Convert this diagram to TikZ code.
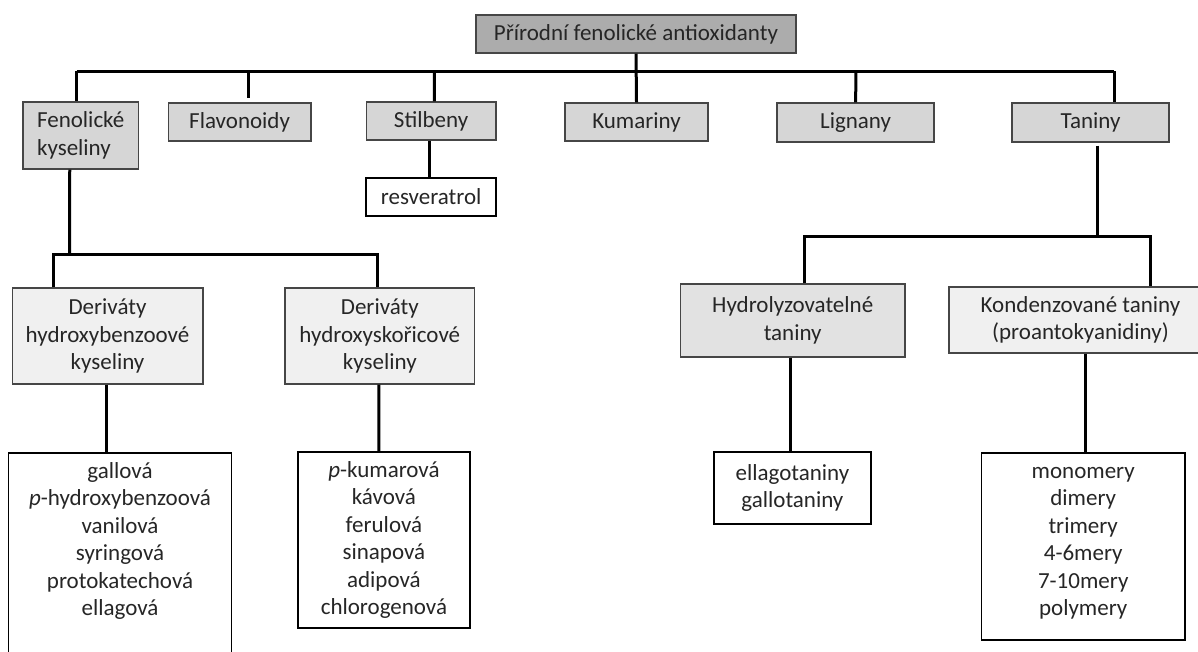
\documentclass[tikz,border=0pt]{standalone}
\usepackage{fontspec}
\setmainfont{Carlito}
\usetikzlibrary{calc}
\definecolor{rootfill}{RGB}{172,172,172}
\definecolor{lvlfill}{RGB}{214,214,214}
\definecolor{subfill}{RGB}{240,240,240}
\definecolor{hydfill}{RGB}{226,226,226}
\definecolor{boxline}{RGB}{70,70,70}
\tikzset{
  box/.style={draw=boxline, line width=1.4pt, rectangle, inner sep=0pt, align=center,
    font=\fontsize{23}{27.5}\selectfont, text=black!85},
  rootbox/.style={box, fill=rootfill},
  lvlbox/.style={box, fill=lvlfill},
  subbox/.style={box, fill=subfill},
  hydbox/.style={box, fill=hydfill},
  listbox/.style={box, fill=white, draw=black, line width=1.6pt},
  conn/.style={draw=black, line width=3pt},
}
\begin{document}
\begin{tikzpicture}[x=1pt,y=-1pt]
\useasboundingbox (0,0) rectangle (1198,651);
\begin{scope}
\clip (0,0) rectangle (1198,651);
% level 0
\node[rootbox, minimum width=320, minimum height=38] (root) at (636,34) {Přírodní fenolické antioxidanty};
% level 1
\node[lvlbox, minimum width=115.5, minimum height=67, align=left] (fen) at (80.75,135.5) {Fenolické\\kyseliny};
\node[lvlbox, minimum width=142.4, minimum height=38] (flav) at (239.6,122) {Flavonoidy};
\node[lvlbox, minimum width=129.8, minimum height=38] (stil) at (431.1,121) {Stilbeny};
\node[lvlbox, minimum width=143, minimum height=38] (kum) at (636.5,122) {Kumariny};
\node[lvlbox, minimum width=157, minimum height=39] (lig) at (855.6,122.5) {Lignany};
\node[lvlbox, minimum width=157, minimum height=39] (tan) at (1090.6,122.5) {Taniny};
\node[listbox, minimum width=129.8, minimum height=38] (res) at (431.1,197) {resveratrol};
% level 2
\node[subbox, minimum width=190.6, minimum height=96] (dhb) at (107.5,336) {Deriváty\\hydroxybenzoové\\kyseliny};
\node[subbox, minimum width=189.4, minimum height=96] (dhs) at (379.8,336) {Deriváty\\hydroxyskořicové\\kyseliny};
\node[hydbox, minimum width=224.6, minimum height=73] (hyd) at (792.7,320.5) {Hydrolyzovatelné\\taniny};
\node[subbox, minimum width=263, minimum height=66] (kon) at (1080.5,320) {Kondenzované taniny\\(proantokyanidiny)};
% lists
\node[listbox, anchor=north, minimum width=223] (l1) at (120,452) {\parbox[c][260pt][t]{223pt}{\centering\vspace*{6pt}\strut gallová\\\textit{p}-hydroxybenzoová\\vanilová\\syringová\\protokatechová\\ellagová}};
\node[listbox, minimum width=172.3, minimum height=176] (l2) at (383.9,540) {\textit{p}-kumarová\\kávová\\ferulová\\sinapová\\adipová\\chlorogenová};
\node[listbox, minimum width=157.3, minimum height=72] (l3) at (792.4,488) {ellagotaniny\\gallotaniny};
\node[listbox, anchor=north, minimum width=203.3] (l4) at (1083.2,452) {\parbox[c][187pt][t]{203.3pt}{\centering\vspace*{6pt}\strut monomery\\dimery\\trimery\\4-6mery\\7-10mery\\polymery}};
% connectors
\coordinate (busL) at (76.5,71);
\coordinate (busR) at (1114,71);
\coordinate (bflav) at (248,71);
\coordinate (bstil) at (434.4,71);
\coordinate (blig) at (856,71);
\draw[conn] (busL) -- (busR);
\draw[conn] (root.south) -- (kum.north);
\draw[conn] (busL) -- ($(fen.north)+(-4.25,0)$);
\draw[conn] (bflav) -- ($(flav.north)+(8.4,-4)$);
\draw[conn] (bstil) -- ($(stil.north)+(3.3,0)$);
\draw[conn] (blig) -- (lig.north);
\draw[conn] (busR) -- ($(tan.north)+(23.4,0)$);
\draw[conn] ($(stil.south)+(-1.7,0)$) -- ($(res.north)+(-1.7,0)$);
% fenolicke kyseliny branch
\coordinate (fb) at (69.7,255);
\draw[conn] ($(fen.south)+(-11,0)$) -- (fb);
\draw[conn] ($(dhb.north)+(-53.9,0)$) |- ($(dhs.north)+(-2.8,-33)$) -- ($(dhs.north)+(-2.8,0)$);
\draw[conn] ($(dhb.south)+(-1.1,0)$) -- ($(l1.north)+(-13.6,0)$);
\draw[conn] ($(dhs.south)+(-0.9,0)$) -- ($(l2.north)+(-5,0)$);
% taniny branch
\coordinate (tb) at (1097.5,237);
\draw[conn] ($(tan.south)+(6.9,3)$) -- (tb);
\draw[conn] ($(hyd.north)+(11.3,0)$) |- ($(kon.north)+(69.5,-50)$) -- ($(kon.north)+(69.5,0)$);
\draw[conn] ($(hyd.south)+(-2.1,0)$) -- ($(l3.north)+(-1.8,0)$);
\draw[conn] ($(kon.south)+(4.8,0)$) -- ($(l4.north)+(2.1,0)$);
\end{scope}
\end{tikzpicture}
\end{document}
